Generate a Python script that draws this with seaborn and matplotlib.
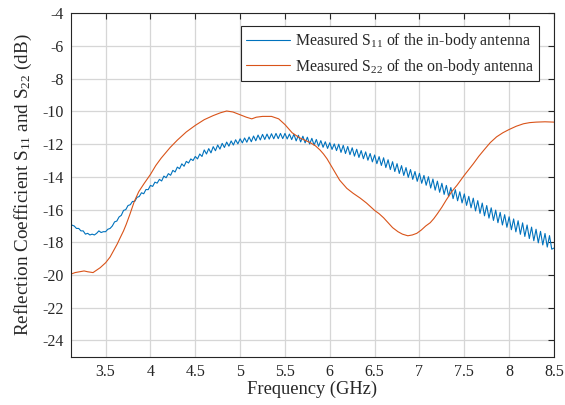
import numpy as np
import pandas as pd
import matplotlib
matplotlib.use("Agg")
import matplotlib.pyplot as plt
import seaborn as sns

# measured S11 of the in-body antenna, sweep 3.1 - 8.5 GHz, 25 MHz step
s11_start, s11_stop = 3.1, 8.5
s11_db = [
    # 3.100 - 3.575
    -16.80, -16.95, -17.00, -17.15, -17.15, -17.30, -17.30, -17.50, -17.45, -17.55,
    -17.50, -17.55, -17.45, -17.30, -17.40, -17.35, -17.35, -17.20, -17.15, -17.00,
    # 3.600 - 4.075
    -16.75, -16.70, -16.45, -16.35, -16.05, -16.00, -15.75, -15.70, -15.50, -15.50,
    -15.25, -15.20, -14.97, -15.03, -14.77, -14.78, -14.52, -14.58, -14.32, -14.38,
    # 4.100 - 4.575
    -14.15, -14.25, -13.95, -14.05, -13.80, -13.90, -13.60, -13.70, -13.40, -13.50,
    -13.20, -13.35, -13.05, -13.15, -12.90, -13.00, -12.75, -12.90, -12.60, -12.75,
    # 4.600 - 5.075
    -12.35, -12.60, -12.27, -12.53, -12.15, -12.40, -12.05, -12.30, -11.95, -12.20,
    -11.87, -12.12, -11.80, -12.05, -11.73, -11.98, -11.67, -11.92, -11.62, -11.88,
    # 5.100 - 5.575
    -11.56, -11.85, -11.50, -11.79, -11.44, -11.74, -11.40, -11.71, -11.38, -11.69,
    -11.36, -11.67, -11.34, -11.66, -11.34, -11.66, -11.34, -11.68, -11.38, -11.72,
    # 5.600 - 6.075
    -11.39, -11.80, -11.45, -11.86, -11.51, -11.92, -11.57, -11.99, -11.64, -12.06,
    -11.71, -12.13, -11.78, -12.19, -11.85, -12.26, -11.91, -12.32, -11.98, -12.39,
    # 6.100 - 6.575
    -12.00, -12.50, -12.07, -12.57, -12.14, -12.64, -12.22, -12.73, -12.31, -12.81,
    -12.39, -12.89, -12.47, -12.98, -12.57, -13.08, -12.66, -13.19, -12.76, -13.30,
    # 6.600 - 7.075
    -12.83, -13.43, -12.95, -13.55, -13.07, -13.67, -13.19, -13.79, -13.31, -13.91,
    -13.43, -14.03, -13.55, -14.15, -13.67, -14.27, -13.78, -14.39, -13.91, -14.51,
    # 7.100 - 7.575
    -13.99, -14.68, -14.13, -14.81, -14.26, -14.94, -14.39, -15.07, -14.52, -15.20,
    -14.65, -15.33, -14.78, -15.46, -14.91, -15.59, -15.04, -15.74, -15.19, -15.89,
    # 7.600 - 8.075
    -15.30, -16.08, -15.45, -16.23, -15.60, -16.38, -15.75, -16.52, -15.89, -16.66,
    -16.03, -16.80, -16.17, -16.94, -16.31, -17.08, -16.44, -17.23, -16.57, -17.36,
    # 8.100 - 8.500
    -16.68, -17.51, -16.81, -17.64, -16.94, -17.77, -17.07, -17.90, -17.20, -18.03,
    -17.33, -18.16, -17.46, -18.29, -17.59, -18.42, -18.35,
]

# measured S22 of the on-body antenna
s22_freq = [
    3.11, 3.16, 3.21, 3.26, 3.30, 3.36, 3.40, 3.44, 3.50, 3.55,
    3.59, 3.63, 3.66, 3.70, 3.73, 3.77, 3.82, 3.87, 3.93, 4.00,
    4.06, 4.12, 4.22, 4.30, 4.40, 4.50, 4.60, 4.70, 4.78, 4.85,
    4.92, 5.00, 5.07, 5.13, 5.18, 5.25, 5.35, 5.43, 5.50, 5.58,
    5.66, 5.72, 5.78, 5.84, 5.89, 5.93, 5.97, 6.04, 6.11, 6.19,
    6.26, 6.34, 6.41, 6.46, 6.50, 6.55, 6.60, 6.65, 6.70, 6.76,
    6.81, 6.87, 6.92, 6.97, 7.02, 7.07, 7.12, 7.16, 7.20, 7.25,
    7.30, 7.36, 7.42, 7.46, 7.50, 7.55, 7.60, 7.66, 7.72, 7.79,
    7.86, 7.93, 8.00, 8.08, 8.16, 8.23, 8.30, 8.40, 8.50,
]
s22_db = [
    -19.95, -19.85, -19.80, -19.75, -19.80, -19.85, -19.70, -19.55, -19.25, -18.90,
    -18.50, -18.10, -17.75, -17.30, -16.90, -16.30, -15.50, -14.90, -14.40, -13.85,
    -13.30, -12.85, -12.20, -11.75, -11.25, -10.85, -10.50, -10.25, -10.08, -9.97,
    -10.03, -10.20, -10.35, -10.45, -10.35, -10.30, -10.30, -10.45, -10.80, -11.30,
    -11.60, -11.75, -11.90, -12.10, -12.35, -12.60, -12.90, -13.55, -14.20, -14.70,
    -15.00, -15.30, -15.60, -15.85, -16.05, -16.25, -16.50, -16.80, -17.10, -17.35,
    -17.50, -17.60, -17.55, -17.45, -17.25, -17.00, -16.80, -16.55, -16.25, -15.85,
    -15.40, -14.90, -14.50, -14.20, -13.90, -13.55, -13.20, -12.75, -12.35, -11.90,
    -11.55, -11.30, -11.10, -10.90, -10.75, -10.68, -10.65, -10.63, -10.65,
]

labels = ["Measured S$\\mathregular{_{11}}$ of the in-body antenna",
          "Measured S$\\mathregular{_{22}}$ of the on-body antenna"]
colors = ["#0072BD", "#D95319"]

s11 = pd.DataFrame({"freq": np.linspace(s11_start, s11_stop, len(s11_db)), "db": s11_db})
s22 = pd.DataFrame({"freq": s22_freq, "db": s22_db})

sns.set_theme(style="whitegrid")
plt.rcParams["font.family"] = ["Liberation Serif", "DejaVu Serif"]
plt.rcParams["mathtext.fontset"] = "custom"
plt.rcParams["mathtext.rm"] = "Liberation Serif"
plt.rcParams["axes.unicode_minus"] = False

fig, ax = plt.subplots(figsize=(5.65, 4.05), dpi=100)
fig.subplots_adjust(left=0.125, right=0.9805, top=0.967, bottom=0.119)

sns.lineplot(data=s11, x="freq", y="db", ax=ax, color=colors[0], lw=0.8, label=labels[0])
sns.lineplot(data=s22, x="freq", y="db", ax=ax, color=colors[1], lw=0.8, label=labels[1])

ax.set_xlim(3.11, 8.5)
ax.set_ylim(-25, -4)
ax.set_xticks(np.arange(3.5, 8.51, 0.5))
ax.set_xticklabels(["3.5", "4", "4.5", "5", "5.5", "6", "6.5", "7", "7.5", "8", "8.5"])
ax.set_yticks(np.arange(-24, -3, 2))
ax.tick_params(direction="in", length=4, width=0.8, color="#262626",
               top=True, right=True, labelsize=11.5, labelcolor="#262626", pad=5)
ax.grid(True, color="#d6d6d6", lw=0.9)
for sp in ax.spines.values():
    sp.set_color("#262626")
    sp.set_linewidth(0.8)
ax.set_facecolor("white")

ax.set_xlabel("Frequency (GHz)", fontsize=13.3, color="#262626", labelpad=1)
ax.set_ylabel("Reflection Coefficient S$\\mathregular{_{11}}$ and S$\\mathregular{_{22}}$ (dB)",
              fontsize=13.8, color="#262626", labelpad=6)

leg = ax.legend(loc="upper right", bbox_to_anchor=(0.97, 0.962), fontsize=11.4,
                frameon=True, fancybox=False, framealpha=1, edgecolor="#262626",
                handlelength=2.8, handletextpad=0.3, borderpad=0.3, labelspacing=0.35,
                borderaxespad=0)
leg.get_frame().set_linewidth(0.8)

plt.savefig("out.png", dpi=100)
